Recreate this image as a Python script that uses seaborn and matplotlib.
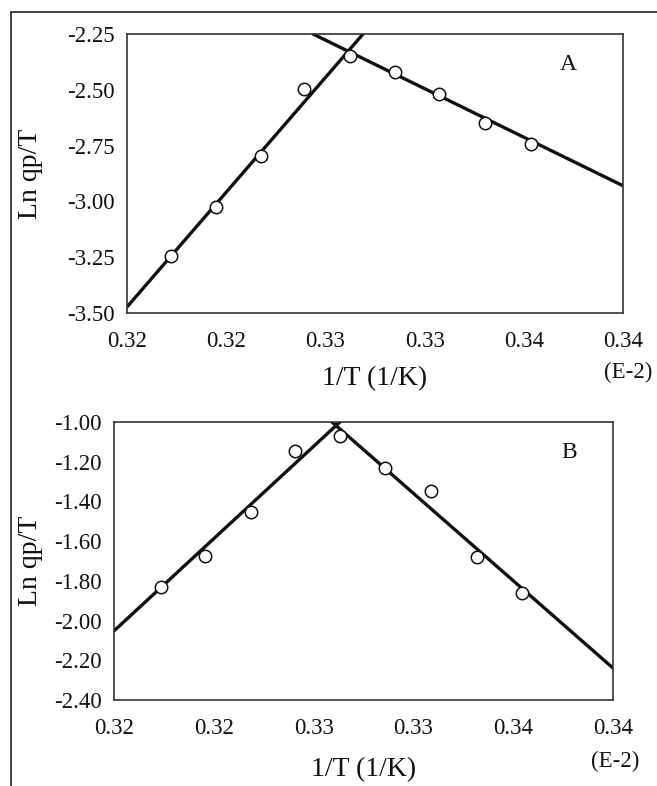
import matplotlib
matplotlib.use("Agg")
import matplotlib.pyplot as plt
from matplotlib.lines import Line2D
from matplotlib.ticker import FormatStrFormatter
import seaborn as sns

# --- data (1/T in units of E-2) ---
x_ticks = [0.318, 0.323, 0.328, 0.333, 0.338, 0.343]

# panel A
x_a = [0.32022, 0.32249, 0.32475, 0.32692, 0.32924, 0.33151, 0.33373, 0.33604, 0.33836]
y_a = [-3.245, -3.025, -2.797, -2.496, -2.349, -2.420, -2.519, -2.649, -2.743]
a_rise_x = [0.318, 0.3299]
a_rise_y = [-3.473, -2.25]
a_fall_x = [0.32737, 0.343]
a_fall_y = [-2.25, -2.93]
y_ticks_a = [-3.50, -3.25, -3.00, -2.75, -2.50, -2.25]

# panel B
x_b = [0.32035, 0.32256, 0.32486, 0.32707, 0.32932, 0.33158, 0.33388, 0.33619, 0.33844]
y_b = [-1.831, -1.675, -1.453, -1.146, -1.070, -1.232, -1.347, -1.680, -1.861]
b_rise_x = [0.318, 0.32932]
b_rise_y = [-2.052, -1.0]
b_fall_x = [0.32892, 0.343]
b_fall_y = [-1.0, -2.239]
y_ticks_b = [-2.40, -2.20, -2.00, -1.80, -1.60, -1.40, -1.20, -1.00]

sns.set_style("white")
plt.rcParams['font.family'] = ['Liberation Serif', 'DejaVu Serif']
plt.rcParams['axes.unicode_minus'] = False

fig = plt.figure(figsize=(6.57, 7.86), dpi=100)
ax_a = fig.add_axes([0.1933, 0.6018, 0.7549, 0.3550])
ax_b = fig.add_axes([0.1735, 0.1094, 0.7595, 0.3537])


def draw_panel(ax, xs, ys, rise_x, rise_y, fall_x, fall_y, yticks, tag, tag_xy, ylab_x, xlab_y):
    sns.lineplot(x=rise_x, y=rise_y, color='#111111', lw=2.4, ax=ax)
    sns.lineplot(x=fall_x, y=fall_y, color='#111111', lw=2.4, ax=ax)
    sns.scatterplot(x=xs, y=ys, s=80, color='white', edgecolor='#111111',
                    linewidth=1.1, zorder=5, ax=ax)
    ax.set_xlim(x_ticks[0], x_ticks[-1])
    ax.set_ylim(yticks[0], yticks[-1])
    ax.set_xticks(x_ticks)
    ax.set_yticks(yticks)
    ax.xaxis.set_major_formatter(FormatStrFormatter('%.2f'))
    ax.yaxis.set_major_formatter(FormatStrFormatter('%.2f'))
    ax.tick_params(direction='in', length=10, width=1.2, color='#333333',
                   labelsize=16.5, labelcolor='#111111')
    ax.tick_params(axis='x', pad=13)
    ax.tick_params(axis='y', pad=9)
    for sp in ax.spines.values():
        sp.set_color('#333333')
        sp.set_linewidth(1.2)
    ax.set_xlabel('1/T (1/K)', fontsize=20, color='#111111')
    ax.set_ylabel('Ln qp/T', fontsize=20, color='#111111')
    ax.xaxis.set_label_coords(0.5, xlab_y)
    ax.xaxis.label.set_va('top')
    ax.yaxis.set_label_coords(ylab_x, 0.5)
    ax.text(tag_xy[0], tag_xy[1], tag, transform=ax.transAxes, fontsize=17,
            ha='center', va='center', color='#111111')


draw_panel(ax_a, x_a, y_a, a_rise_x, a_rise_y, a_fall_x, a_fall_y, y_ticks_a,
           'A', (0.889, 0.889), -0.169, -0.19)
draw_panel(ax_b, x_b, y_b, b_rise_x, b_rise_y, b_fall_x, b_fall_y, y_ticks_b,
           'B', (0.912, 0.892), -0.142, -0.205)

fig.text(0.956, 0.5267, '(E-2)', fontsize=16.5, ha='center', va='center', color='#111111')
fig.text(0.936, 0.0318, '(E-2)', fontsize=16.5, ha='center', va='center', color='#111111')

# outer frame (top and left edges only)
fig.add_artist(Line2D([0.0167, 1.0], [0.9847, 0.9847], transform=fig.transFigure,
                      color='#333333', lw=1.3))
fig.add_artist(Line2D([0.0167, 0.0167], [0.0, 0.9847], transform=fig.transFigure,
                      color='#333333', lw=1.3))

fig.savefig('out.png', dpi=100)
